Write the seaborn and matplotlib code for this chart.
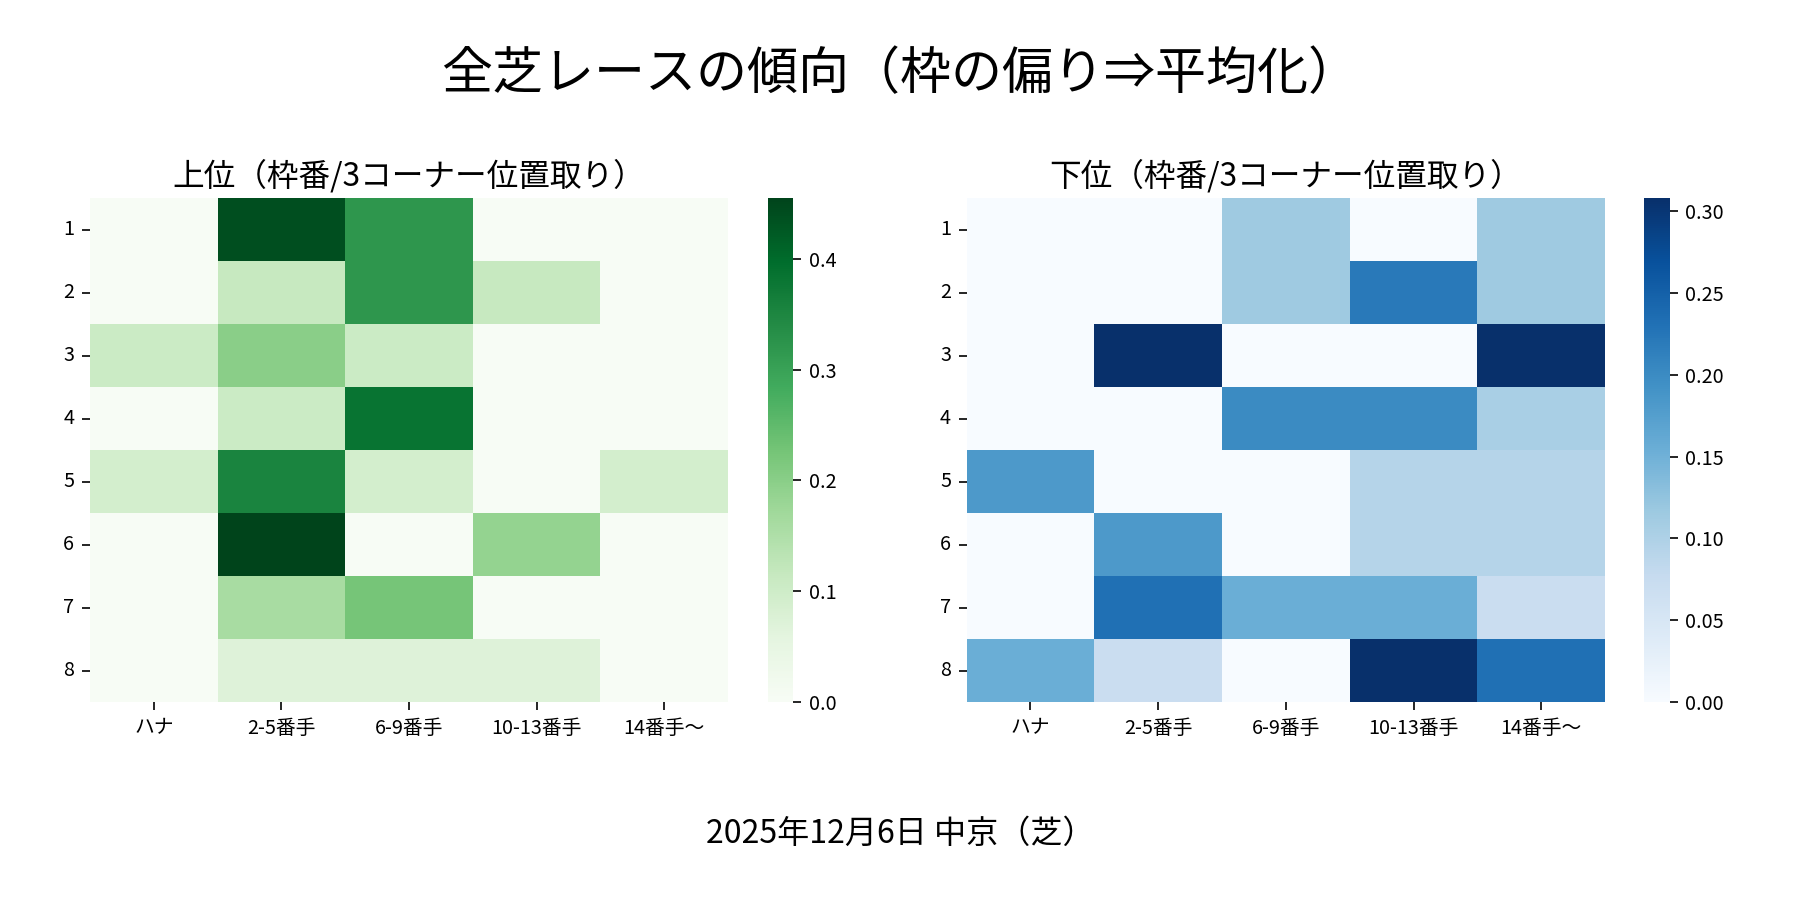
import numpy as np
import pandas as pd
import seaborn as sns
import matplotlib.pyplot as plt

plt.rcParams['font.family'] = ['Noto Sans CJK JP', 'DejaVu Sans']

# frame numbers (rows) and 3rd-corner positions (cols)
waku = [1, 2, 3, 4, 5, 6, 7, 8]
positions = ['ハナ', '2-5番手', '6-9番手', '10-13番手', '14番手〜']

# upper finishers
top_vals = [
    [0.000, 0.440, 0.320, 0.000, 0.000],
    [0.000, 0.114, 0.320, 0.114, 0.000],
    [0.105, 0.200, 0.105, 0.000, 0.000],
    [0.000, 0.105, 0.385, 0.000, 0.000],
    [0.091, 0.355, 0.091, 0.000, 0.091],
    [0.000, 0.455, 0.000, 0.187, 0.000],
    [0.000, 0.160, 0.225, 0.000, 0.000],
    [0.000, 0.070, 0.070, 0.070, 0.000],
]

# lower finishers
bottom_vals = [
    [0.000, 0.000, 0.115, 0.000, 0.115],
    [0.000, 0.000, 0.115, 0.222, 0.115],
    [0.000, 0.308, 0.000, 0.000, 0.308],
    [0.000, 0.000, 0.200, 0.200, 0.105],
    [0.182, 0.000, 0.000, 0.093, 0.093],
    [0.000, 0.182, 0.000, 0.093, 0.093],
    [0.000, 0.231, 0.154, 0.154, 0.072],
    [0.154, 0.072, 0.000, 0.308, 0.231],
]

top_df = pd.DataFrame(top_vals, index=waku, columns=positions)
bottom_df = pd.DataFrame(bottom_vals, index=waku, columns=positions)

fig = plt.figure(figsize=(12, 6), dpi=150)

ax1 = fig.add_axes([0.050, 0.220, 0.3544, 0.560])
cax1 = fig.add_axes([0.4267, 0.220, 0.0140, 0.560])
ax2 = fig.add_axes([0.537, 0.220, 0.3547, 0.560])
cax2 = fig.add_axes([0.9133, 0.220, 0.0142, 0.560])

sns.heatmap(top_df, cmap="Greens", ax=ax1, cbar_ax=cax1)
sns.heatmap(bottom_df, cmap="Blues", ax=ax2, cbar_ax=cax2)

for ax, title in [(ax1, '上位（枠番/3コーナー位置取り）'), (ax2, '下位（枠番/3コーナー位置取り）')]:
    ax.set_title(title, fontsize=15.2, pad=6)
    ax.set_xlabel('')
    ax.set_ylabel('')
    ax.tick_params(axis='both', labelsize=9.5, length=4, width=0.8)
    ax.set_yticklabels(ax.get_yticklabels(), rotation=0)
    ax.set_xticklabels(ax.get_xticklabels(), rotation=0)

for cax in [cax1, cax2]:
    cax.tick_params(labelsize=9.5, length=4, width=0.8)

cax2.set_yticks([0.0, 0.05, 0.10, 0.15, 0.20, 0.25, 0.30])
cax2.set_yticklabels(['0.00', '0.05', '0.10', '0.15', '0.20', '0.25', '0.30'])

fig.suptitle('全芝レースの傾向（枠の偏り⇒平均化）', fontsize=24.5, y=0.917, va='center')
fig.text(0.5, 0.074, '2025年12月6日 中京（芝）', ha='center', va='center', fontsize=15.4)

fig.savefig('out.png', dpi=150)
